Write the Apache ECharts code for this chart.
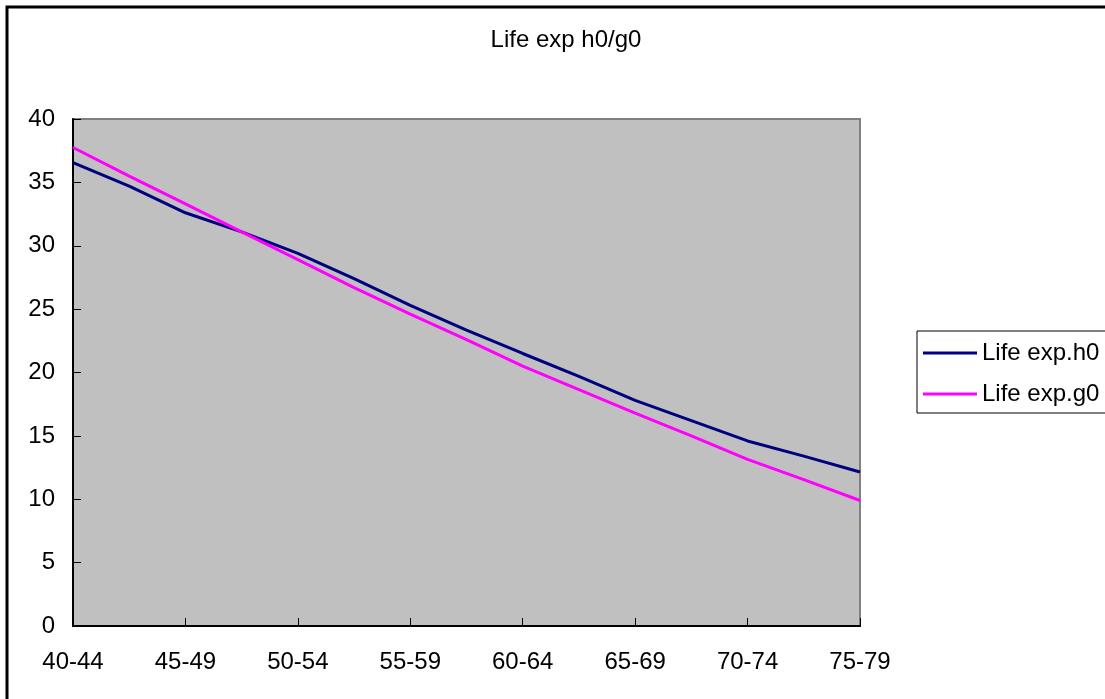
<!DOCTYPE html>
<html>
<head>
<meta charset="utf-8">
<script src="https://cdn.jsdelivr.net/npm/echarts@6/dist/echarts.min.js"></script>
<style>
html,body{margin:0;padding:0;background:#fff;}
#chart{width:1105px;height:699px;}
</style>
</head>
<body>
<div id="chart"></div>
<script>
// Visible category labels (every other data point)
const categories = ["40-44", "45-49", "50-54", "55-59", "60-64", "65-69", "70-74", "75-79"];
// Series values (15 points: one at each label and one midway between labels)
const lifeExpH0 = [36.55, 34.7, 32.6, 31.1, 29.4, 27.4, 25.3, 23.35, 21.5, 19.7, 17.8, 16.2, 14.6, 13.4, 12.15];
const lifeExpG0 = [37.75, 35.5, 33.3, 31.1, 28.9, 26.7, 24.6, 22.6, 20.5, 18.65, 16.8, 15.0, 13.15, 11.55, 9.9];
const yTicks = { min: 0, max: 40, interval: 5 };
const titleText = "Life exp h0/g0";
const seriesNames = ["Life exp.h0", "Life exp.g0"];

// Build the category axis: labels interleaved with unlabeled midpoints
const axisCats = [];
categories.forEach((c, i) => {
  axisCats.push(c);
  if (i < categories.length - 1) axisCats.push('');
});

const font = "'Liberation Sans', Arial, sans-serif";
const chart = echarts.init(document.getElementById('chart'));
chart.setOption({
  animation: false,
  backgroundColor: '#ffffff',
  title: {
    text: titleText,
    left: 561,
    top: 23,
    textAlign: 'center',
    textStyle: { fontFamily: font, fontSize: 24, fontWeight: 'normal', color: '#000' }
  },
  graphic: [{
    type: 'rect',
    shape: { x: 7, y: 7, width: 1110, height: 710 },
    style: { fill: 'none', stroke: '#000', lineWidth: 3 },
    silent: true
  }],
  legend: {
    orient: 'vertical',
    left: 917,
    top: 331,
    padding: [10, 8, 7, 6],
    itemGap: 17,
    itemWidth: 54,
    itemHeight: 3,
    icon: 'rect',
    backgroundColor: '#fff',
    borderColor: '#000',
    borderWidth: 1,
    borderRadius: 0,
    textStyle: { fontFamily: font, fontSize: 24, color: '#000', lineHeight: 24 },
    data: seriesNames
  },
  grid: {
    left: 73, right: 245, top: 119, bottom: 73,
    show: true,
    backgroundColor: '#C0C0C0',
    borderColor: '#808080',
    borderWidth: 2
  },
  xAxis: {
    type: 'category',
    data: axisCats,
    boundaryGap: false,
    axisLine: { show: true, lineStyle: { color: '#000', width: 2 } },
    axisTick: { show: true, inside: true, length: 8, interval: 1, lineStyle: { color: '#000', width: 1 } },
    axisLabel: { interval: 1, margin: 24, fontFamily: font, fontSize: 24, color: '#000' },
    splitLine: { show: false }
  },
  yAxis: {
    type: 'value',
    min: yTicks.min, max: yTicks.max, interval: yTicks.interval,
    axisLine: { show: true, lineStyle: { color: '#000', width: 2 } },
    axisTick: { show: true, inside: true, length: 8, lineStyle: { color: '#000', width: 1 } },
    axisLabel: { margin: 18, fontFamily: font, fontSize: 24, color: '#000' },
    splitLine: { show: false }
  },
  series: [
    {
      name: seriesNames[0], type: 'line', data: lifeExpH0,
      symbol: 'none', lineStyle: { color: '#000080', width: 3 }, itemStyle: { color: '#000080' }
    },
    {
      name: seriesNames[1], type: 'line', data: lifeExpG0,
      symbol: 'none', lineStyle: { color: '#FF00FF', width: 3 }, itemStyle: { color: '#FF00FF' }
    }
  ]
});
</script>
</body>
</html>
